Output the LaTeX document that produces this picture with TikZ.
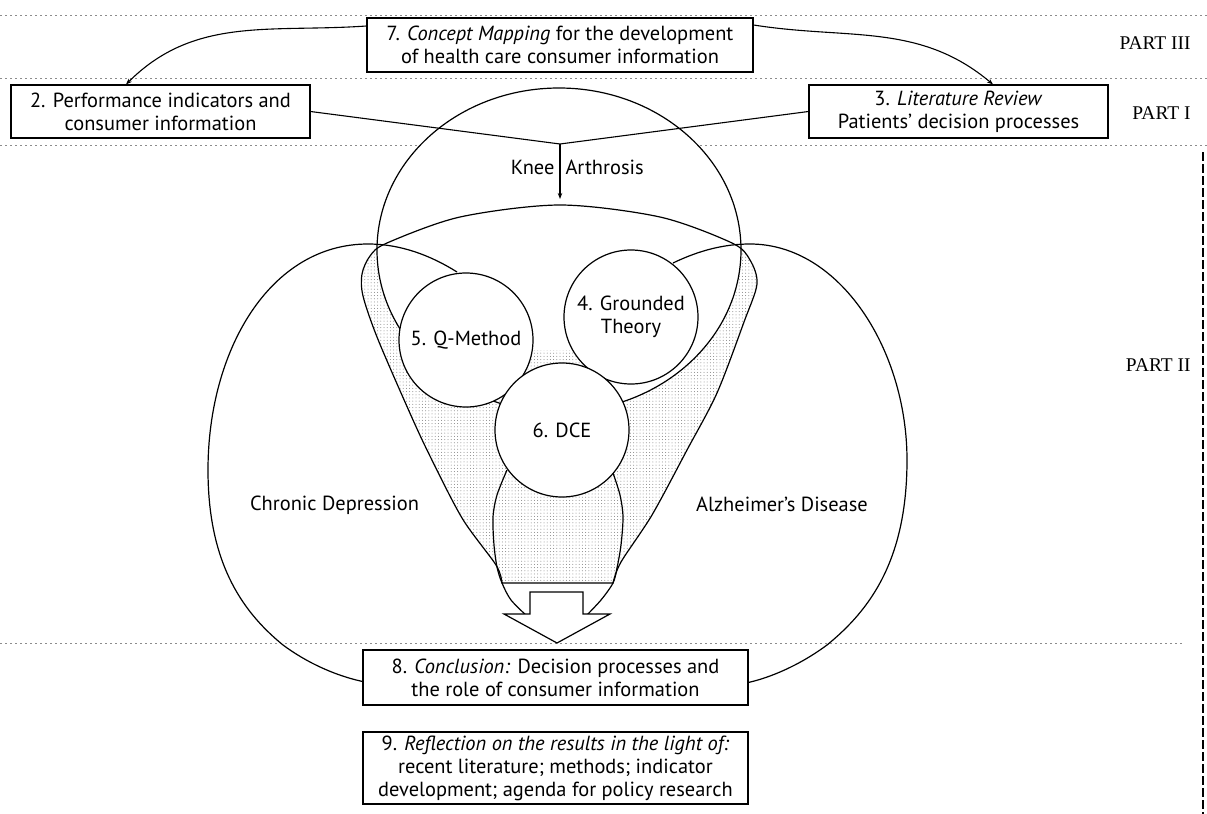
\documentclass[tikz,border=0pt]{standalone}
\usepackage{fontspec}
\setmainfont{PT Sans}
\newfontfamily\partfont{Liberation Serif}
\usetikzlibrary{arrows.meta,patterns.meta}
\begin{document}
\begin{tikzpicture}[x=1bp,y=-1bp,
  box/.style={draw,line width=1.1bp,fill=white,align=center,inner sep=0pt,font=\fontsize{20.5}{23}\selectfont},
  circ/.style={draw,circle,line width=1.2bp,fill=white,minimum size=134bp,inner sep=0pt,align=center,font=\fontsize{20.5}{23}\selectfont},
  outl/.style={line width=1.2bp},
  guide/.style={black!45,line width=0.8bp,dash pattern=on 1.5bp off 3.5bp},
  conn/.style={line width=1.1bp},
  arr/.style={line width=1.1bp,-{Stealth[length=6bp,width=4.5bp]}},
  lbl/.style={font=\fontsize{20.5}{23}\selectfont},
  partlbl/.style={font=\partfont\fontsize{19.5}{22}\selectfont,anchor=east},
  shade/.style={pattern={Dots[radius=0.5bp,distance=3.2bp]},pattern color=black!50},
]
\useasboundingbox (0,0) rectangle (1207,814);
% guide lines
\draw[guide] (0,15) -- (1207,15);
\draw[guide] (0,78) -- (1207,78);
\draw[guide] (0,145) -- (1207,145);
\draw[guide] (0,643) -- (1185,643);
\draw[line width=1.2bp,dash pattern=on 9bp off 3bp] (1203,152) -- (1203,814);

% funnel shading
\def\funnel{(502,583) (496,565) (462,518) (427,450) (405,402) (377,337) (363,296) (362,274) (370,256) (387,243) (460,217) (560,205) (660,217) (732,243) (750,260) (757,284) (744,322) (717,393) (687,450) (652,515) (621,562) (613,583)}
\path[shade] plot[smooth] coordinates {\funnel} -- cycle;
% knee interior (white part)
\begin{scope}
  \clip (559,250) ellipse [x radius=182bp, y radius=162bp];
  \fill[white] (300,60) -- (820,60) -- (820,430) -- (640,430) -- (600,380) -- (590,350) -- (520,350) -- (430,335) -- (300,335) -- cycle;
\end{scope}

% outlines
\draw[outl] plot[smooth] coordinates {\funnel} -- cycle;
\draw[outl] (559,250) ellipse [x radius=182bp, y radius=162bp];
% chronic depression
\draw[outl] (457,272) .. controls (430,255) and (400,244) .. (368,244)
  .. controls (270,244) and (208,350) .. (208,470)
  .. controls (208,560) and (240,610) .. (283,645)
  .. controls (310,665) and (340,677) .. (365,682);
% alzheimer
\draw[outl] (673,263) .. controls (700,250) and (725,244) .. (750,244)
  .. controls (840,244) and (907,350) .. (907,460)
  .. controls (907,560) and (870,610) .. (827,645)
  .. controls (800,665) and (770,678) .. (746,683);
% inner curves
\draw[outl] plot[smooth] coordinates {(507,470) (497,495) (493,517) (494,545) (497,567) (502,583) (511,600) (528,617)};
\draw[outl] plot[smooth] coordinates {(613,473) (620,495) (623,517) (621,545) (617,568) (613,583) (601,600) (585,617)};

% method circles
\node[circ] (q) at (466,340) {5. Q-Method};
\node[circ] (gt) at (631,317) {4. Grounded\\Theory};
\node[circ] (dce) at (562,430) {6. DCE};

% block arrow
\draw[outl,fill=white] (530,592) -- (583,592) -- (583,614) -- (610,614) -- (557,643) -- (504,614) -- (530,614) -- cycle;

% boxes
\node[box,minimum width=386bp,minimum height=54bp] (b7) at (560,45) {7. \textit{Concept Mapping} for the development\\of health care consumer information};
\node[box,minimum width=299bp,minimum height=53bp] (b2) at (160.5,111.5) {2. Performance indicators and\\consumer information};
\node[box,minimum width=299bp,minimum height=53bp] (b3) at (958.5,111.5) {3. \textit{Literature Review}\\Patients’ decision processes};
\node[box,minimum width=385bp,minimum height=55bp] (b8) at (555.5,677.5) {8. \textit{Conclusion:} Decision processes and\\the role of consumer information};
\node[box,minimum width=385bp,minimum height=72bp] (b9) at (555.5,768) {9. \textit{Reflection on the results in the light of:}\\recent literature; methods; indicator\\development; agenda for policy research};

% connectors
\coordinate (j) at (560,144);
\coordinate (k) at (560,199);
\draw[conn] (b2.east) -- (j);
\draw[conn] (b3.west) -- (j);
\draw[arr] (j) -- (k);
\draw[arr] ([yshift=19bp]b7.west) to[out=184,in=45] ([xshift=-34.5bp]b2.north);
\draw[arr] ([yshift=20bp]b7.east) to[out=-9,in=140] ([xshift=34.5bp]b3.north);

% labels
\node[lbl,anchor=east] (knee) at (558,167) {Knee};
\node[lbl,anchor=west] (arth) at (562,167) {Arthrosis};
\node[lbl] (cd) at (334.5,505) {Chronic Depression};
\node[lbl] (ad) at (782,504) {Alzheimer’s Disease};
\node[partlbl] (p3) at (1194,43) {PART III};
\node[partlbl] (p1) at (1194,113) {PART I};
\node[partlbl] (p2) at (1194,365) {PART II};
\end{tikzpicture}
\end{document}
